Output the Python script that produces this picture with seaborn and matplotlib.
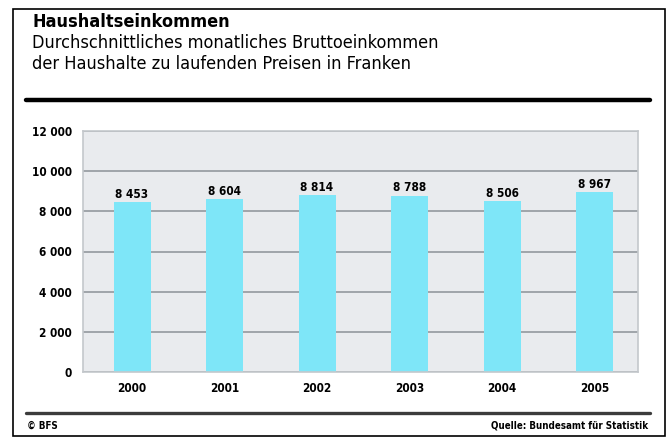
import numpy as np
import pandas as pd
import matplotlib
matplotlib.use('Agg')
import matplotlib.pyplot as plt
import seaborn as sns
from matplotlib.ticker import FuncFormatter
from matplotlib.patches import Rectangle
from matplotlib.lines import Line2D

years = ['2000', '2001', '2002', '2003', '2004', '2005']
income = [8453, 8604, 8814, 8788, 8506, 8967]
yticks = [0, 2000, 4000, 6000, 8000, 10000, 12000]

df = pd.DataFrame({'Jahr': years, 'Einkommen': income})

sns.set_style('white', {'axes.facecolor': '#e9ebee'})
plt.rcParams['font.family'] = ['DejaVu Sans']
plt.rcParams['font.stretch'] = 'condensed'
plt.rcParams['text.color'] = 'black'
plt.rcParams['xtick.color'] = 'black'
plt.rcParams['ytick.color'] = 'black'

W, H = 669, 438
fig = plt.figure(figsize=(W / 100, H / 100), dpi=100)

def fx(px):
    return px / W

def fy(py):
    return 1 - py / H

# outer frame
fig.patches.append(Rectangle((fx(13), fy(436)), fx(665) - fx(13), fy(9) - fy(436),
                             transform=fig.transFigure, fill=False, edgecolor='black', lw=1.2))

fig.text(fx(32), fy(13), 'Haushaltseinkommen', fontsize=13, fontweight='bold', va='top',
         fontstretch='condensed')
fig.text(fx(32), fy(34), 'Durchschnittliches monatliches Bruttoeinkommen', fontsize=13, va='top',
         fontstretch='condensed')
fig.text(fx(32), fy(55), 'der Haushalte zu laufenden Preisen in Franken', fontsize=13, va='top',
         fontstretch='condensed')
fig.lines.append(Line2D([fx(26), fx(650)], [fy(100), fy(100)], transform=fig.transFigure,
                        color='black', lw=3.2))

ax = fig.add_axes([fx(83), fy(372), fx(638) - fx(83), fy(131) - fy(372)])
sns.barplot(data=df, x='Jahr', y='Einkommen', color='#7ee6f8', width=0.4, ax=ax,
            saturation=1, edgecolor='none')
ax.set_xlim(-0.53, 5.47)
ax.set_ylim(0, 12000)
ax.set_yticks(yticks)
ax.yaxis.set_major_formatter(FuncFormatter(lambda v, p: f'{int(v):,}'.replace(',', ' ')))
ax.grid(axis='y', color='#9a9fa4', lw=1.3)
ax.set_axisbelow(True)
for s in ax.spines.values():
    s.set_color('#c4c8cc')
    s.set_linewidth(1.2)
ax.set_xlabel('')
ax.set_ylabel('')
ax.tick_params(axis='both', length=0, labelsize=8.5)
ax.tick_params(axis='y', pad=8)
ax.tick_params(axis='x', pad=7)
for lab in ax.get_xticklabels() + ax.get_yticklabels():
    lab.set_fontweight('bold')
    lab.set_fontstretch('condensed')

ax.bar_label(ax.containers[0], labels=[f'{v:,}'.replace(',', ' ') for v in income],
             fontsize=8.5, fontweight='bold', padding=1, fontstretch='condensed')

fig.lines.append(Line2D([fx(26), fx(650)], [fy(413), fy(413)], transform=fig.transFigure,
                        color='#3c3c3c', lw=2.4))
fig.text(fx(27), fy(421), '© BFS', fontsize=7, fontweight='bold', va='top')
fig.text(fx(648), fy(421), 'Quelle: Bundesamt für Statistik', fontsize=7, fontweight='bold',
         va='top', ha='right')

fig.savefig('out.png', dpi=100, facecolor='white')
